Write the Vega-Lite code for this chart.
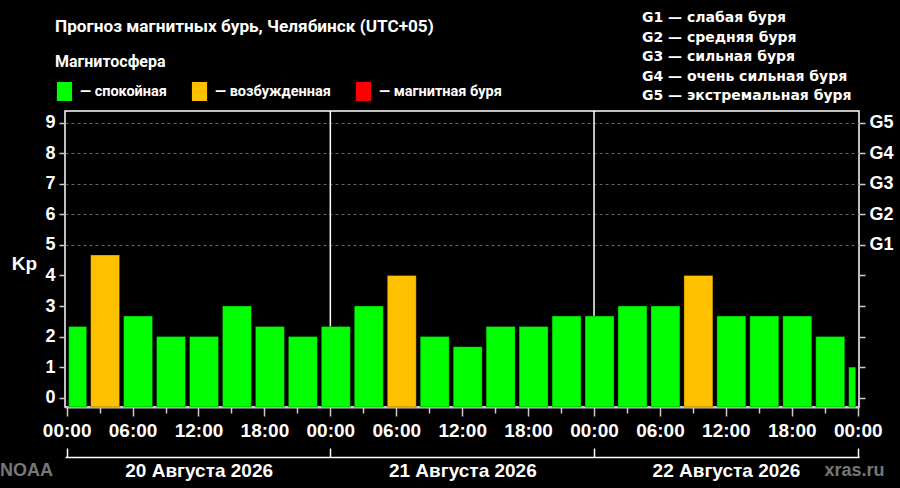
{
  "$schema": "https://vega.github.io/schema/vega-lite/v6.json",
  "width": 794,
  "height": 296,
  "autosize": {"type": "none"},
  "padding": {"left": 65, "top": 111, "right": 41, "bottom": 81},
  "background": "black",
  "title": {
    "text": "Прогноз магнитных бурь, Челябинск (UTC+05)",
    "anchor": "start",
    "frame": "group",
    "dx": -10,
    "offset": -24.5,
    "font": "Roboto",
    "fontSize": 17.2,
    "fontWeight": "bold",
    "color": "white"
  },
  "config": {
    "view": {"stroke": "white", "strokeWidth": 1.5},
    "font": "Liberation Sans"
  },
  "resolve": {"axis": {"x": "independent", "y": "independent"}},
  "layer": [
    {
      "data": {"values": [{"t": "2026-08-21T00:00"}, {"t": "2026-08-22T00:00"}]},
      "mark": {"type": "rule", "color": "white", "strokeWidth": 1.5},
      "encoding": {
        "x": {
          "field": "t", "type": "temporal",
          "scale": {"domain": [{"year": 2026, "month": 8, "date": 19, "hours": 23, "minutes": 51}, {"year": 2026, "month": 8, "date": 23, "hours": 0, "minutes": 7}]},
          "axis": {
            "orient": "bottom", "offset": 50,
            "tickCount": {"interval": "day", "step": 1},
            "tickSize": -9, "tickColor": "white", "tickWidth": 1.5,
            "domain": true, "domainColor": "white", "domainWidth": 1.5,
            "grid": false,
            "labelExpr": "date(datum.value) < 23 && month(datum.value) == 7 && date(datum.value) >= 20 ? date(datum.value) + ' Августа 2026' : ''",
            "labelOffset": 132, "labelFlush": false, "labelOverlap": false,
            "labelFontSize": 19, "labelFontWeight": "bold", "labelColor": "white", "labelPadding": 13,
            "title": "xras.ru", "titleX": 789, "titleY": 13, "titleAlign": "center", "titleBaseline": "middle",
            "titleColor": "#777777", "titleFontSize": 18, "titleFontWeight": "bold"
          }
        }
      }
    },
    {
      "data": {"values": [
        {"start": "2026-08-20T00:00", "end": "2026-08-20T02:00", "kp": 2.33, "state": "— спокойная"},
        {"start": "2026-08-20T02:00", "end": "2026-08-20T05:00", "kp": 4.67, "state": "— возбужденная"},
        {"start": "2026-08-20T05:00", "end": "2026-08-20T08:00", "kp": 2.67, "state": "— спокойная"},
        {"start": "2026-08-20T08:00", "end": "2026-08-20T11:00", "kp": 2.0, "state": "— спокойная"},
        {"start": "2026-08-20T11:00", "end": "2026-08-20T14:00", "kp": 2.0, "state": "— спокойная"},
        {"start": "2026-08-20T14:00", "end": "2026-08-20T17:00", "kp": 3.0, "state": "— спокойная"},
        {"start": "2026-08-20T17:00", "end": "2026-08-20T20:00", "kp": 2.33, "state": "— спокойная"},
        {"start": "2026-08-20T20:00", "end": "2026-08-20T23:00", "kp": 2.0, "state": "— спокойная"},
        {"start": "2026-08-20T23:00", "end": "2026-08-21T02:00", "kp": 2.33, "state": "— спокойная"},
        {"start": "2026-08-21T02:00", "end": "2026-08-21T05:00", "kp": 3.0, "state": "— спокойная"},
        {"start": "2026-08-21T05:00", "end": "2026-08-21T08:00", "kp": 4.0, "state": "— возбужденная"},
        {"start": "2026-08-21T08:00", "end": "2026-08-21T11:00", "kp": 2.0, "state": "— спокойная"},
        {"start": "2026-08-21T11:00", "end": "2026-08-21T14:00", "kp": 1.67, "state": "— спокойная"},
        {"start": "2026-08-21T14:00", "end": "2026-08-21T17:00", "kp": 2.33, "state": "— спокойная"},
        {"start": "2026-08-21T17:00", "end": "2026-08-21T20:00", "kp": 2.33, "state": "— спокойная"},
        {"start": "2026-08-21T20:00", "end": "2026-08-21T23:00", "kp": 2.67, "state": "— спокойная"},
        {"start": "2026-08-21T23:00", "end": "2026-08-22T02:00", "kp": 2.67, "state": "— спокойная"},
        {"start": "2026-08-22T02:00", "end": "2026-08-22T05:00", "kp": 3.0, "state": "— спокойная"},
        {"start": "2026-08-22T05:00", "end": "2026-08-22T08:00", "kp": 3.0, "state": "— спокойная"},
        {"start": "2026-08-22T08:00", "end": "2026-08-22T11:00", "kp": 4.0, "state": "— возбужденная"},
        {"start": "2026-08-22T11:00", "end": "2026-08-22T14:00", "kp": 2.67, "state": "— спокойная"},
        {"start": "2026-08-22T14:00", "end": "2026-08-22T17:00", "kp": 2.67, "state": "— спокойная"},
        {"start": "2026-08-22T17:00", "end": "2026-08-22T20:00", "kp": 2.67, "state": "— спокойная"},
        {"start": "2026-08-22T20:00", "end": "2026-08-22T23:00", "kp": 2.0, "state": "— спокойная"},
        {"start": "2026-08-22T23:00", "end": "2026-08-23T00:00", "kp": 1.0, "state": "— спокойная"}
      ]},
      "mark": {"type": "bar", "xOffset": 2, "x2Offset": -2, "stroke": "black", "strokeOpacity": 0.3, "strokeWidth": 1},
      "encoding": {
        "x": {
          "field": "start", "type": "temporal",
          "scale": {"domain": [{"year": 2026, "month": 8, "date": 19, "hours": 23, "minutes": 51}, {"year": 2026, "month": 8, "date": 23, "hours": 0, "minutes": 7}]},
          "axis": {
            "orient": "bottom",
            "values": [
              {"year": 2026, "month": 8, "date": 20, "hours": 0}, {"year": 2026, "month": 8, "date": 20, "hours": 6},
              {"year": 2026, "month": 8, "date": 20, "hours": 12}, {"year": 2026, "month": 8, "date": 20, "hours": 18},
              {"year": 2026, "month": 8, "date": 21, "hours": 0}, {"year": 2026, "month": 8, "date": 21, "hours": 6},
              {"year": 2026, "month": 8, "date": 21, "hours": 12}, {"year": 2026, "month": 8, "date": 21, "hours": 18},
              {"year": 2026, "month": 8, "date": 22, "hours": 0}, {"year": 2026, "month": 8, "date": 22, "hours": 6},
              {"year": 2026, "month": 8, "date": 22, "hours": 12}, {"year": 2026, "month": 8, "date": 22, "hours": 18},
              {"year": 2026, "month": 8, "date": 23, "hours": 0}
            ],
            "tickSize": 9,
            "tickColor": "#cccccc", "tickWidth": 1.5,
            "domain": true, "domainColor": "#cccccc", "domainWidth": 2,
            "grid": false,
            "labelExpr": "timeFormat(datum.value, '%H:%M')",
            "labelFlush": false, "labelOverlap": false,
            "labelFontSize": 19, "labelFontWeight": "bold", "labelColor": "white", "labelPadding": 5,
            "title": "NOAA", "titleX": -39, "titleY": 63, "titleAlign": "center", "titleBaseline": "middle",
            "titleColor": "#777777", "titleFontSize": 18, "titleFontWeight": "bold"
          }
        },
        "x2": {"field": "end"},
        "y": {
          "field": "kp", "type": "quantitative",
          "scale": {"domain": [-0.305, 9.383], "nice": false, "zero": false},
          "axis": {
            "orient": "left",
            "values": [0, 1, 2, 3, 4, 5, 6, 7, 8, 9],
            "domain": false,
            "tickColor": "#cccccc", "tickSize": 6, "tickWidth": 1.5,
            "labelFontSize": 18, "labelFontWeight": "bold", "labelColor": "white", "labelPadding": 4,
            "grid": true, "gridColor": "#666666", "gridDash": [3, 3], "gridWidth": 1,
            "gridOpacity": {"condition": {"test": "datum.value >= 5", "value": 1}, "value": 0},
            "title": "Kp", "titleAngle": 0, "titleX": -41, "titleY": 152, "titleAlign": "center", "titleBaseline": "middle",
            "titleColor": "white", "titleFontSize": 19, "titleFontWeight": "bold"
          }
        },
        "y2": {"datum": -0.305},
        "color": {
          "field": "state", "type": "nominal",
          "scale": {"domain": ["— спокойная", "— возбужденная", "— магнитная буря"], "range": ["#00ff00", "#ffc000", "#ff0000"]},
          "legend": {
            "orient": "none", "legendX": -10, "legendY": -57,
            "direction": "horizontal", "columns": 3,
            "title": "Магнитосфера", "titleColor": "white", "titleFontSize": 16, "titleFontWeight": "bold",
            "titleFont": "Roboto", "titlePadding": 12,
            "labelColor": "white", "labelFontSize": 14.5, "labelFontWeight": "bold",
            "labelFont": "Roboto", "labelLimit": 300,
            "symbolType": "M-0.8,-1L0.8,-1L0.8,1L-0.8,1Z", "symbolSize": 361,
            "symbolStrokeWidth": 0, "symbolOpacity": 1, "labelOffset": 6, "columnPadding": 23
          }
        }
      }
    },
    {
      "data": {"values": [{"t": "2026-08-20T03:00"}]},
      "mark": {"type": "point", "opacity": 0},
      "encoding": {
        "x": {
          "field": "t", "type": "temporal",
          "scale": {"domain": [{"year": 2026, "month": 8, "date": 19, "hours": 23, "minutes": 51}, {"year": 2026, "month": 8, "date": 23, "hours": 0, "minutes": 7}]},
          "axis": {
            "orient": "bottom",
            "values": [
              {"year": 2026, "month": 8, "date": 20, "hours": 3}, {"year": 2026, "month": 8, "date": 20, "hours": 9},
              {"year": 2026, "month": 8, "date": 20, "hours": 15}, {"year": 2026, "month": 8, "date": 20, "hours": 21},
              {"year": 2026, "month": 8, "date": 21, "hours": 3}, {"year": 2026, "month": 8, "date": 21, "hours": 9},
              {"year": 2026, "month": 8, "date": 21, "hours": 15}, {"year": 2026, "month": 8, "date": 21, "hours": 21},
              {"year": 2026, "month": 8, "date": 22, "hours": 3}, {"year": 2026, "month": 8, "date": 22, "hours": 9},
              {"year": 2026, "month": 8, "date": 22, "hours": 15}, {"year": 2026, "month": 8, "date": 22, "hours": 21}
            ],
            "tickSize": 6, "tickColor": "#cccccc", "tickWidth": 1.5,
            "domain": false, "grid": false, "labels": false, "title": null
          }
        }
      }
    },
    {
      "data": {"values": [
        {"kp": 5, "g": "G1 — слабая буря"},
        {"kp": 6, "g": "G2 — средняя буря"},
        {"kp": 7, "g": "G3 — сильная буря"},
        {"kp": 8, "g": "G4 — очень сильная буря"},
        {"kp": 9, "g": "G5 — экстремальная буря"}
      ]},
      "mark": {"type": "point", "opacity": 0},
      "encoding": {
        "y": {
          "field": "kp", "type": "quantitative",
          "scale": {"domain": [-0.305, 9.383], "nice": false, "zero": false},
          "axis": {
            "orient": "right",
            "values": [0, 1, 2, 3, 4, 5, 6, 7, 8, 9],
            "labelExpr": "datum.value >= 5 ? 'G' + (datum.value - 4) : ''",
            "domain": false, "grid": false,
            "tickColor": "#cccccc", "tickSize": 6, "tickWidth": 1.5,
            "labelFontSize": 18, "labelFontWeight": "bold", "labelColor": "white", "labelPadding": 4,
            "title": null
          }
        },
        "shape": {
          "field": "g", "type": "nominal",
          "legend": {
            "orient": "none", "legendX": 563, "legendY": -100,
            "title": null,
            "symbolSize": 0, "symbolOpacity": 0, "symbolStrokeWidth": 0, "labelOffset": 0,
            "labelColor": "white", "labelFontSize": 14, "labelFontWeight": "bold", "labelFont": "DejaVu Sans",
            "labelLimit": 300, "rowPadding": 5.5
          }
        }
      }
    }
  ]
}
